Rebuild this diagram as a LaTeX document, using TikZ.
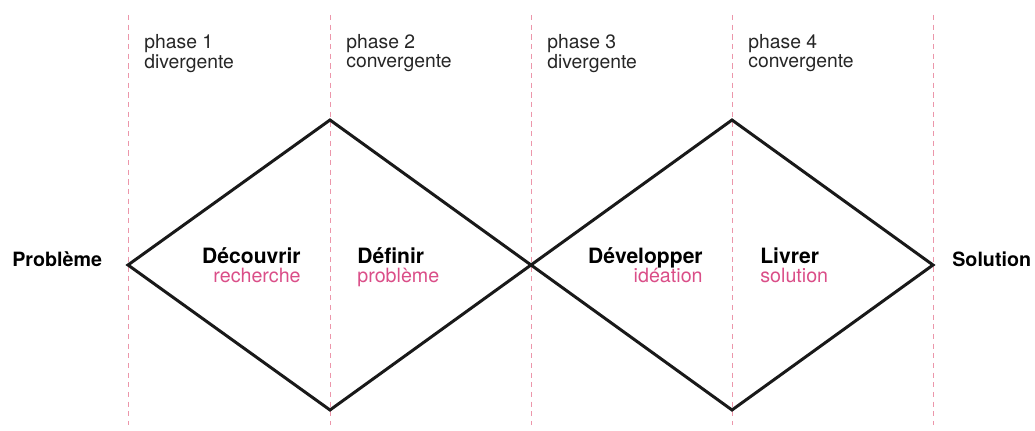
\documentclass[tikz,border=0pt]{standalone}
\usepackage{fontspec}
\setmainfont{TeX Gyre Heros}
\usepackage{xcolor}
\definecolor{rose}{RGB}{218,78,136}
\definecolor{roseclair}{RGB}{236,150,170}
\tikzset{
	etape/.style={font=\fontsize{12}{12}\selectfont\bfseries, inner sep=0pt},
	extremite/.style={font=\fontsize{11.2}{12}\selectfont\bfseries, inner sep=0pt},
	souslabel/.style={font=\fontsize{11.2}{11}\selectfont, text=rose, inner sep=0pt},
	phaselabel/.style={font=\fontsize{11}{8.5}\selectfont, align=left, anchor=north west, inner sep=0pt, text=black!85},
	bord/.style={line width=1.7pt, line join=miter, black!90}
}

\begin{document}
\begin{tikzpicture}[x=0.02cm, y=-0.02cm]
	\useasboundingbox (0,0) rectangle (1035,431);
	\foreach \x in {128, 330, 531, 732, 933}
	\draw[roseclair, line width=0.5pt, dash pattern=on 3pt off 2.5pt] (\x, 15) -- (\x, 425);

	\foreach \x/\n/\t in {144/1/divergente, 346/2/convergente, 547/3/divergente, 748/4/convergente}
	\node[phaselabel] (phase\n) at (\x, 34) {phase \n\\\t};

	\coordinate (gauche) at (128, 265);
	\coordinate (haut1) at (330, 120);
	\coordinate (milieu) at (531, 265);
	\coordinate (bas1) at (330, 410);
	\coordinate (haut2) at (732, 120);
	\coordinate (droite) at (933, 265);
	\coordinate (bas2) at (732, 410);

	\draw[bord] (gauche) -- (haut1) -- (milieu) -- (bas1) -- cycle;
	\draw[bord] (milieu) -- (haut2) -- (droite) -- (bas2) -- cycle;

	\node[extremite, anchor=base west] (probleme) at (12, 267) {Problème};
	\node[extremite, anchor=base west] (solution) at (952, 267) {Solution};

	\node[etape, anchor=base east] (decouvrir) at (301, 264) {Découvrir};
	\node[souslabel, anchor=base east] (recherche) at (301, 283) {recherche};
	\node[etape, anchor=base west] (definir) at (357, 264) {Définir};
	\node[souslabel, anchor=base west] (probl) at (357, 283) {problème};
	\node[etape, anchor=base east] (developper) at (703, 264) {Développer};
	\node[souslabel, anchor=base east] (ideation) at (703, 283) {idéation};
	\node[etape, anchor=base west] (livrer) at (760, 264) {Livrer};
	\node[souslabel, anchor=base west] (sol) at (760, 283) {solution};
\end{tikzpicture}
\end{document}
